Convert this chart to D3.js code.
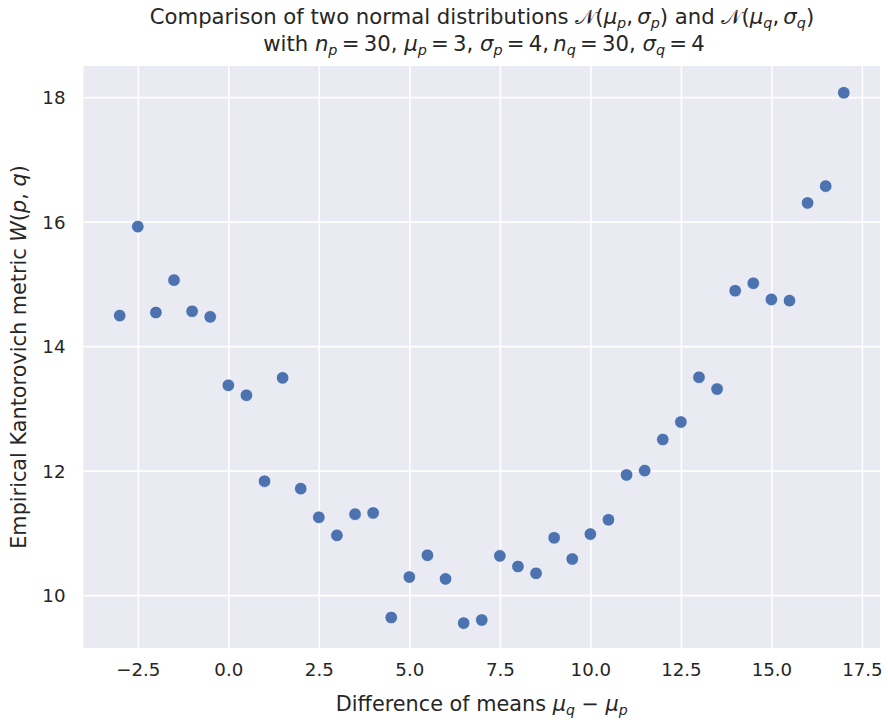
<!DOCTYPE html>
<html>
<head>
<meta charset="utf-8">
<script src="https://cdn.jsdelivr.net/npm/d3@7"></script>
<style>
  html, body { margin: 0; padding: 0; background: #ffffff; }
  svg { display: block; font-family: "DejaVu Sans", sans-serif; }
</style>
</head>
<body>
<svg id="chart" width="888" height="722"></svg>
<script>
// Difference of means (mu_q - mu_p) used for each experiment
const meanDiffs = [
  -3, -2.5, -2, -1.5, -1, -0.5, 0, 0.5, 1, 1.5, 2, 2.5, 3, 3.5, 4, 4.5,
  5, 5.5, 6, 6.5, 7, 7.5, 8, 8.5, 9, 9.5, 10, 10.5, 11, 11.5, 12, 12.5,
  13, 13.5, 14, 14.5, 15, 15.5, 16, 16.5, 17
];
// Empirical Kantorovich (Wasserstein) distance W(p, q) for each difference
const kantorovich = [
  14.49, 15.92, 14.54, 15.06, 14.56, 14.47, 13.37, 13.21, 11.83, 13.49, 11.71, 11.25,
  10.96, 11.30, 11.32, 9.64, 10.29, 10.64, 10.26, 9.55, 9.60, 10.63, 10.46, 10.35,
  10.92, 10.58, 10.98, 11.21, 11.93, 12.00, 12.50, 12.78, 13.50, 13.31, 14.89, 15.01,
  14.75, 14.73, 16.30, 16.57, 18.07
];
const xTicks = [-2.5, 0.0, 2.5, 5.0, 7.5, 10.0, 12.5, 15.0, 17.5];
const yTicks = [10, 12, 14, 16, 18];

const svg = d3.select("#chart");
const plot = { left: 83.5, top: 66, right: 880, bottom: 648 };

const x = d3.scaleLinear().domain([-4, 18]).range([plot.left, plot.right]);
const y = d3.scaleLinear().domain([9.15, 18.5]).range([plot.bottom, plot.top]);

// Axes background
svg.append("rect")
  .attr("x", plot.left).attr("y", plot.top)
  .attr("width", plot.right - plot.left).attr("height", plot.bottom - plot.top)
  .attr("fill", "#eaeaf2");

// Grid lines and tick labels through d3 axes
const fmtX = d => d3.format(".1f")(d).replace("-", "\u2212");
const xAxis = svg.append("g")
  .attr("transform", `translate(0,${plot.bottom})`)
  .call(d3.axisBottom(x).tickValues(xTicks).tickFormat(fmtX)
    .tickSize(-(plot.bottom - plot.top)).tickPadding(19));
const yAxis = svg.append("g")
  .attr("transform", `translate(${plot.left},0)`)
  .call(d3.axisLeft(y).tickValues(yTicks).tickFormat(d3.format("d"))
    .tickSize(-(plot.right - plot.left)).tickPadding(18));

[xAxis, yAxis].forEach(g => {
  g.select(".domain").remove();
  g.selectAll(".tick line").attr("stroke", "#ffffff").attr("stroke-width", 1.6);
  g.selectAll(".tick text")
    .attr("fill", "#262626")
    .attr("font-size", 18.2)
    .attr("font-family", "DejaVu Sans, sans-serif");
});
xAxis.selectAll(".tick text").attr("dy", "0.5em");
yAxis.selectAll(".tick text").attr("dy", "0.36em");

// Scatter points
svg.append("g")
  .selectAll("circle")
  .data(meanDiffs.map((d, i) => ({ dx: d, w: kantorovich[i] })))
  .join("circle")
  .attr("cx", d => x(d.dx))
  .attr("cy", d => y(d.w))
  .attr("r", 6.3)
  .attr("fill", "#4c72b0")
  .attr("stroke", "#ffffff")
  .attr("stroke-width", 0.7);

// Render text made of plain, italic and subscript runs; each run sets its
// own vertical offset relative to the previous one so the baseline is restored.
function richText(sel, parts, size) {
  const subSize = size * 0.68;
  const shift = size * 0.2;
  let offset = 0;
  parts.forEach(p => {
    const [txt, kind] = p;
    const target = kind === "sub" ? shift : 0;
    sel.append("tspan")
      .attr("font-style", kind === "n" ? "normal" : "italic")
      .attr("font-size", kind === "sub" ? subSize : size)
      .attr("dy", target - offset)
      .text(txt);
    offset = target;
  });
}

const N = "\u{1D4A9}";
const th = "\u2009"; // thin space used around math operators
const titleSize = 21.2;
const t1 = svg.append("text").attr("x", 482).attr("y", 23.5).attr("text-anchor", "middle")
  .attr("fill", "#262626").attr("font-size", titleSize);
richText(t1, [
  ["Comparison of two normal distributions ", "n"], [N, "n"], ["(", "n"],
  ["\u03bc", "i"], ["p", "sub"], [","+th, "n"], ["\u03c3", "i"], ["p", "sub"], [")", "n"],
  [" and ", "n"], [N, "n"], ["(", "n"],
  ["\u03bc", "i"], ["q", "sub"], [","+th, "n"], ["\u03c3", "i"], ["q", "sub"], [")", "n"]
], titleSize);

const t2 = svg.append("text").attr("x", 484).attr("y", 51).attr("text-anchor", "middle")
  .attr("fill", "#262626").attr("font-size", titleSize);
richText(t2, [
  ["with ", "n"], ["n", "i"], ["p", "sub"], [th + "=" + th + "30, ", "n"],
  ["\u03bc", "i"], ["p", "sub"], [th + "=" + th + "3, ", "n"],
  ["\u03c3", "i"], ["p", "sub"], [th + "=" + th + "4," + th, "n"],
  ["n", "i"], ["q", "sub"], [th + "=" + th + "30, ", "n"],
  ["\u03c3", "i"], ["q", "sub"], [th + "=" + th + "4", "n"]
], titleSize);

// Axis labels
const labelSize = 20.8;
const xl = svg.append("text").attr("x", (plot.left + plot.right) / 2).attr("y", 711)
  .attr("text-anchor", "middle").attr("fill", "#262626").attr("font-size", labelSize);
richText(xl, [
  ["Difference of means ", "n"], ["\u03bc", "i"], ["q", "sub"], [" \u2212 ", "n"],
  ["\u03bc", "i"], ["p", "sub"]
], labelSize);

const yl = svg.append("text")
  .attr("transform", `translate(26,${(plot.top + plot.bottom) / 2}) rotate(-90)`)
  .attr("text-anchor", "middle").attr("fill", "#262626").attr("font-size", labelSize);
richText(yl, [
  ["Empirical Kantorovich metric ", "n"], ["W", "i"], ["(", "n"], ["p", "i"],
  [", ", "n"], ["q", "i"], [")", "n"]
], labelSize);
</script>
</body>
</html>
